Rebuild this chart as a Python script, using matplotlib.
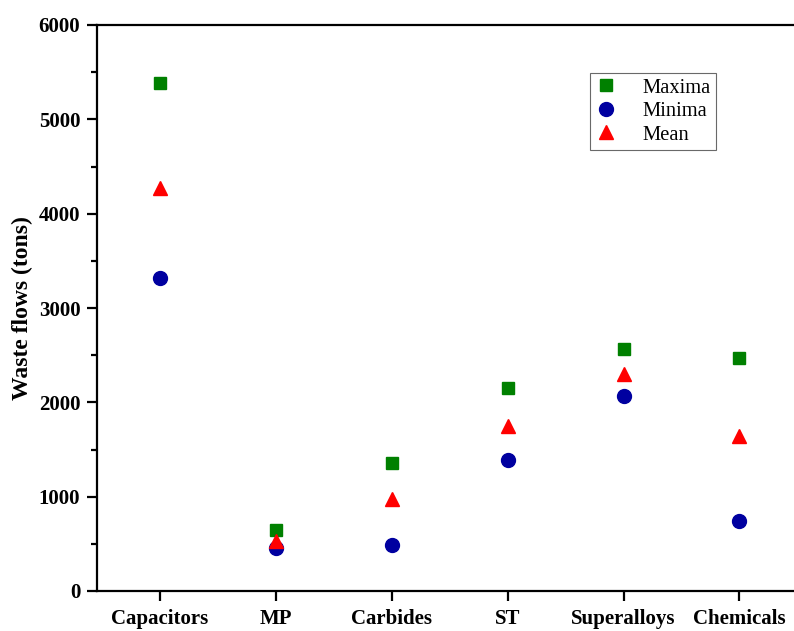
import matplotlib
matplotlib.use("Agg")
import matplotlib.pyplot as plt
from matplotlib.ticker import MultipleLocator

categories = ["Capacitors", "MP", "Carbides", "ST", "Superalloys", "Chemicals"]
maxima = [5385, 647, 1357, 2150, 2562, 2473]
minima = [3318, 458, 488, 1389, 2071, 742]
mean = [4272, 535, 975, 1745, 2297, 1643]

plt.rcParams['font.family'] = ['Liberation Serif', 'DejaVu Serif']

fig = plt.figure(figsize=(7.94, 6.31), dpi=100)
ax = fig.add_axes([97/794, 40/631, 1 - 97/794, 566/631])

x = list(range(len(categories)))
ax.plot(x, maxima, 's', color='#008000', markersize=8.5, label='Maxima', linestyle='none')
ax.plot(x, minima, 'o', color='#0000A0', markersize=10, label='Minima', linestyle='none')
ax.plot(x, mean, '^', color='#FF0000', markersize=10.5, label='Mean', linestyle='none')

ax.set_xlim(-0.54, 5.47)
ax.set_ylim(0, 6000)
ax.set_xticks(x)
ax.set_xticklabels(categories, fontsize=15, fontweight='bold')
ax.yaxis.set_major_locator(MultipleLocator(1000))
ax.yaxis.set_minor_locator(MultipleLocator(500))
for lbl in ax.get_yticklabels():
    lbl.set_fontsize(15)
    lbl.set_fontweight('bold')
ax.set_ylabel('Waste flows (tons)', fontsize=17, fontweight='bold', labelpad=4)

ax.spines['right'].set_visible(False)
for s in ['left', 'bottom', 'top']:
    ax.spines[s].set_linewidth(1.6)
ax.tick_params(axis='both', which='major', direction='out', length=7, width=1.6)
ax.tick_params(axis='x', which='major', pad=6)
ax.tick_params(axis='y', which='major', pad=5)
ax.tick_params(axis='y', which='minor', direction='out', length=4, width=1.6)
ax.tick_params(axis='x', which='minor', bottom=False)

leg = ax.legend(loc='upper right', bbox_to_anchor=(0.888, 0.915), fontsize=14.8,
                frameon=True, fancybox=False, edgecolor='#444444', handletextpad=1.3,
                borderpad=0.25, labelspacing=0.2, handlelength=1.0, borderaxespad=0)
leg.get_frame().set_linewidth(0.8)

fig.savefig('out.png', dpi=100)
